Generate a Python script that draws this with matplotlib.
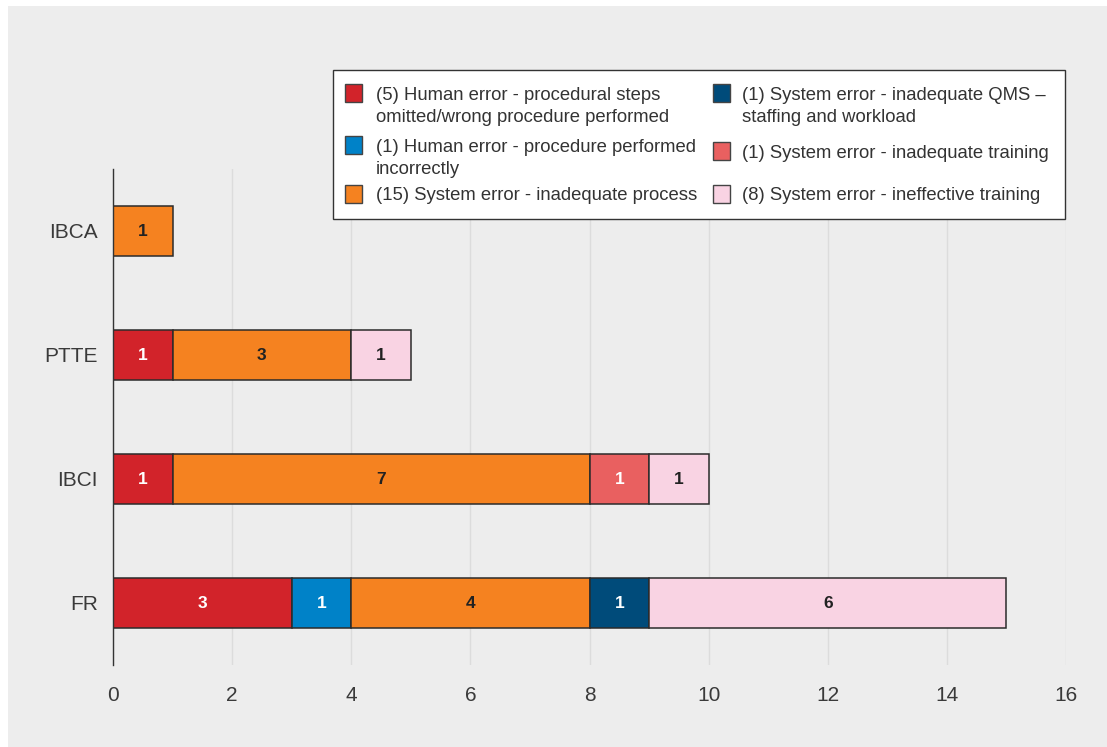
import matplotlib
matplotlib.use('Agg')
import matplotlib.pyplot as plt
from matplotlib.patches import Rectangle
import numpy as np

plt.rcParams['font.family'] = ['Liberation Sans', 'DejaVu Sans']

# bottom to top
categories = ['FR', 'IBCI', 'PTTE', 'IBCA']

human_steps = [3, 1, 1, 0]
human_incorrect = [1, 0, 0, 0]
sys_process = [4, 7, 3, 1]
sys_qms = [1, 0, 0, 0]
sys_training = [0, 1, 0, 0]
sys_ineffective = [6, 1, 1, 0]

series = [human_steps, human_incorrect, sys_process, sys_qms, sys_training, sys_ineffective]
names = ['Human error - procedural steps\nomitted/wrong procedure performed',
         'Human error - procedure performed\nincorrectly',
         'System error - inadequate process',
         'System error - inadequate QMS \u2013\nstaffing and workload',
         'System error - inadequate training',
         'System error - ineffective training']
colors = ['#D2232A', '#0082C8', '#F58220', '#004B7A', '#E96060', '#F9D3E3']
text_colors = ['white', 'white', '#222222', 'white', 'white', '#222222']

W, H = 1107, 747
fig = plt.figure(figsize=(W / 100, H / 100), dpi=100, facecolor='white')

# grey panel behind everything
fig.patches.append(Rectangle((8 / W, 0), 1 - 8 / W, 1 - 6 / H, transform=fig.transFigure,
                             facecolor='#EDEDED', edgecolor='none', zorder=-10))

ax = fig.add_axes([113 / W, 1 - 665 / H, (1066 - 113) / W, (665 - 169) / H])
ax.set_facecolor('none')

y = np.arange(len(categories))
left = np.zeros(len(categories))
for vals, c, tc in zip(series, colors, text_colors):
    vals = np.array(vals, dtype=float)
    m = vals > 0
    ax.barh(y[m], vals[m], left=left[m], height=0.41, color=c,
            edgecolor='#2b2b2b', linewidth=1.1, zorder=3)
    for yi, v, l in zip(y[m], vals[m], left[m]):
        ax.text(l + v / 2, yi, '%d' % v, ha='center', va='center',
                color=tc, fontsize=12.5, fontweight='bold', zorder=4)
    left += vals

ax.set_xlim(0, 16)
ax.set_ylim(-0.5, 3.5)
ax.set_xticks(np.arange(0, 17, 2))
ax.set_yticks(y)
ax.set_yticklabels(categories)
ax.tick_params(axis='both', length=0, labelsize=15, colors='#3a3a3a')
ax.tick_params(axis='x', pad=15)
ax.tick_params(axis='y', pad=11)
ax.grid(axis='x', color='#DCDCDC', linewidth=1, zorder=0)
for s in ['top', 'right', 'bottom']:
    ax.spines[s].set_visible(False)
ax.spines['left'].set_color('#333333')
ax.spines['left'].set_linewidth(1)
ax.spines['left'].set_zorder(5)

# legend box drawn in pixel positions
def px(x, yp):
    return x / W, 1 - yp / H

x0, y0 = px(333, 219)
x1, y1 = px(1065, 70)
fig.patches.append(Rectangle((x0, y0), x1 - x0, y1 - y0, transform=fig.transFigure,
                             facecolor='white', edgecolor='#333333', linewidth=1, zorder=5))

handle_x = [345, 713]
text_x = [376, 742]
row_y = [[93, 145, 194], [93, 151, 194]]
for i, (vals, name, c) in enumerate(zip(series, names, colors)):
    col, row = divmod(i, 3)
    yc = row_y[col][row]
    hx, hy = px(handle_x[col], yc + 9)
    fig.patches.append(Rectangle((hx, hy), 17 / W, 18 / H, transform=fig.transFigure,
                                 facecolor=c, edgecolor='#444444', linewidth=1, zorder=6))
    label = '(%d) %s' % (sum(vals), name)
    if '\n' in name:
        tx, ty = px(text_x[col], yc - 6)
        fig.text(tx, ty, label, ha='left', va='top', fontsize=13.3,
                 color='#333333', linespacing=1.42, zorder=7)
    else:
        tx, ty = px(text_x[col], yc)
        fig.text(tx, ty, label, ha='left', va='center_baseline', fontsize=13.3,
                 color='#333333', zorder=7)

fig.savefig('out.png', dpi=100, facecolor='white')
